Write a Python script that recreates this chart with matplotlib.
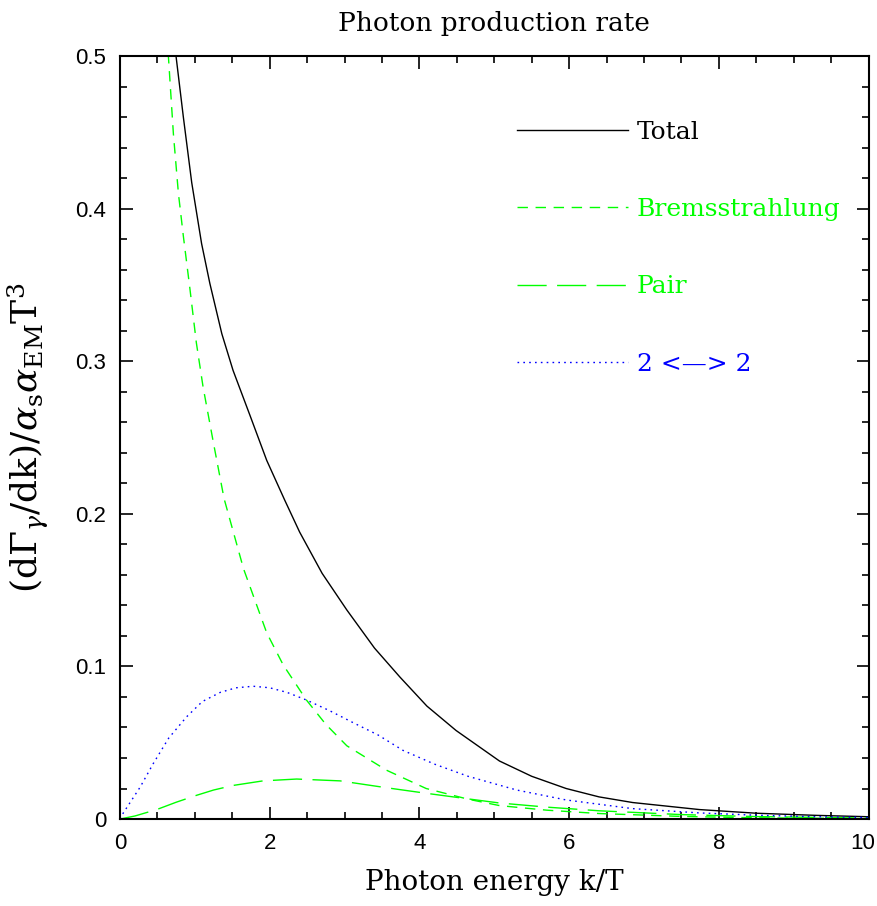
import numpy as np
import matplotlib
matplotlib.use("Agg")
import matplotlib.pyplot as plt
from matplotlib.ticker import MultipleLocator, FuncFormatter
from matplotlib.transforms import ScaledTranslation

# photon energy k/T and rates
total_k = [0.70, 0.748, 0.846, 0.958, 1.09, 1.20, 1.36, 1.51, 1.74, 1.96, 2.20, 2.40, 2.70, 3.03,
           3.40, 3.74, 4.10, 4.49, 5.07, 5.50, 5.96, 6.40, 6.85, 7.74, 8.50, 9.30, 10.0]
total_rate = [0.53, 0.500, 0.460, 0.417, 0.377, 0.351, 0.318, 0.294, 0.264, 0.235, 0.209, 0.188,
              0.161, 0.137, 0.112, 0.093, 0.074, 0.058, 0.038, 0.028, 0.020, 0.0145, 0.0108,
              0.0062, 0.0038, 0.0024, 0.0015]

brems_k = [0.60, 0.646, 0.713, 0.78, 0.846, 0.935, 1.02, 1.11, 1.25, 1.39, 1.65, 1.96, 2.18, 2.49,
           2.75, 3.03, 3.56, 4.09, 4.65, 5.07, 5.70, 6.40, 7.50, 8.50, 10.0]
brems_rate = [0.54, 0.500, 0.449, 0.410, 0.382, 0.347, 0.312, 0.283, 0.246, 0.210, 0.164, 0.122,
              0.101, 0.078, 0.062, 0.048, 0.032, 0.020, 0.0130, 0.0088, 0.0058, 0.0036, 0.0017,
              0.0008, 0.0003]

pair_k = [0.0, 0.20, 0.49, 0.75, 1.02, 1.25, 1.51, 1.91, 2.36, 2.94, 3.56, 4.10, 4.65, 5.07, 5.70,
          6.40, 7.50, 8.50, 10.0]
pair_rate = [0.0, 0.0020, 0.0062, 0.0110, 0.0155, 0.0190, 0.0220, 0.0250, 0.0262, 0.0250, 0.0205,
             0.0168, 0.0132, 0.0105, 0.0078, 0.0054, 0.0029, 0.0016, 0.0006]

two_k = [0.0, 0.044, 0.27, 0.44, 0.65, 0.89, 1.10, 1.34, 1.55, 1.78, 2.00, 2.23, 2.49, 2.80, 3.12,
         3.45, 3.78, 4.20, 4.65, 5.30, 5.96, 6.85, 7.74, 8.50, 9.20, 10.0]
two_rate = [0.0, 0.004, 0.021, 0.036, 0.053, 0.067, 0.077, 0.083, 0.086, 0.087, 0.086, 0.083, 0.078,
            0.071, 0.063, 0.055, 0.045, 0.036, 0.028, 0.019, 0.0125, 0.0068, 0.0040, 0.0025,
            0.0016, 0.0010]

labels = ["Total", "Bremsstrahlung", "Pair", "2 <\u2014> 2"]
colors = ["black", "#00ff00", "#00ff00", "#0000ff"]
styles = ["-", (0, (7.5, 5.5)), (0, (21, 7.5)), (0, (1.2, 3.0))]

xtick_vals = [0, 2, 4, 6, 8, 10]
ytick_vals = [0, 0.1, 0.2, 0.3, 0.4, 0.5]

plt.rcParams["mathtext.fontset"] = "dejavuserif"

fig = plt.figure(figsize=(8.78, 9.06), dpi=100)
ax = fig.add_axes([0.1367, 0.096, 0.8525, 0.8422])

series = [(total_k, total_rate), (brems_k, brems_rate), (pair_k, pair_rate), (two_k, two_rate)]
for (k, r), lab, c, ls in zip(series, labels, colors, styles):
    ax.plot(k, r, color=c, linestyle=ls, linewidth=1.0, label=lab)

ax.set_xlim(0, 10)
ax.set_ylim(0, 0.5)
ax.set_xticks(xtick_vals)
ax.set_yticks(ytick_vals)
ax.xaxis.set_minor_locator(MultipleLocator(0.5))
ax.yaxis.set_minor_locator(MultipleLocator(0.02))
fmt = FuncFormatter(lambda v, p: "%g" % v)
ax.xaxis.set_major_formatter(fmt)
ax.yaxis.set_major_formatter(fmt)
ax.tick_params(which="both", direction="in", top=True, right=True, width=1.2)
ax.tick_params(which="major", length=9, labelsize=16, pad=10)
ax.tick_params(which="minor", length=5)
for lab in ax.get_xticklabels() + ax.get_yticklabels():
    lab.set_family("Liberation Sans")
# keep the last x label inside the figure
last = ax.get_xticklabels()[-1]
last.set_transform(last.get_transform() + ScaledTranslation(-6 / 100, 0, fig.dpi_scale_trans))
for s in ax.spines.values():
    s.set_linewidth(1.5)

ax.set_title("Photon production rate", family="DejaVu Serif", fontsize=19, pad=18)
ax.set_xlabel("Photon energy k/T", family="DejaVu Serif", fontsize=20, labelpad=11)
ax.set_ylabel(r"$(\mathrm{d}\Gamma_{\gamma}/\mathrm{dk})/\alpha_{\mathrm{s}}\alpha_{\mathrm{EM}}\mathrm{T}^3$",
              fontsize=26)
ax.yaxis.set_label_coords(-0.092, 0.5)

leg = ax.legend(loc="upper left", bbox_to_anchor=(0.530, 0.915), frameon=False,
                handlelength=4.44, handletextpad=0.36, labelspacing=2.17, borderaxespad=0,
                borderpad=0, prop={"family": "DejaVu Serif", "size": 18})
for txt, c in zip(leg.get_texts(), colors):
    txt.set_color(c)

fig.savefig("out.png", dpi=100)
